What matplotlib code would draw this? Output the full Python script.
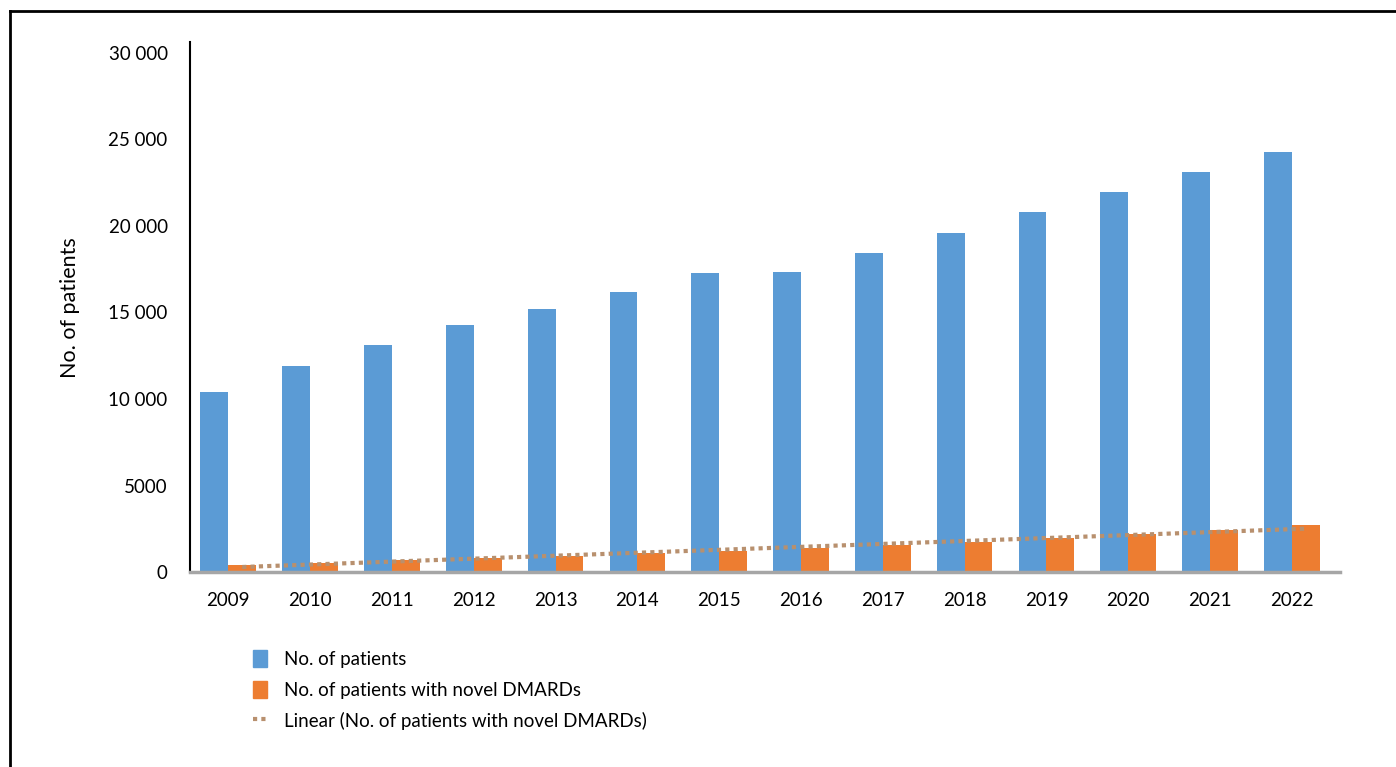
import matplotlib.pyplot as plt
import numpy as np
from matplotlib.lines import Line2D
from matplotlib.patches import Patch

plt.rcParams['font.family'] = ['Lato', 'DejaVu Sans']

years = ['2009', '2010', '2011', '2012', '2013', '2014', '2015',
         '2016', '2017', '2018', '2019', '2020', '2021', '2022']
patients = [10400, 11900, 13100, 14250, 15200, 16200, 17250,
            17350, 18450, 19600, 20800, 21950, 23100, 24250]
novel_dmards = [420, 540, 680, 820, 960, 1080, 1220,
                1380, 1560, 1750, 1950, 2200, 2420, 2700]
y_ticks = [0, 5000, 10000, 15000, 20000, 25000, 30000]
y_tick_labels = ['0', '5000', '10 000', '15 000', '20 000', '25 000', '30 000']

blue = '#5b9bd5'
orange = '#ed7d31'
trend_col = '#b8906e'

fig = plt.figure(figsize=(13.96, 7.67), dpi=100)
ax = fig.add_axes([0.136, 0.254, 0.824, 0.691])

x = np.arange(len(years))
w = 0.34
ax.bar(x - w / 2, patients, w, color=blue)
ax.bar(x + w / 2, novel_dmards, w, color=orange)

# linear trendline of the novel DMARDs series
k, b = np.polyfit(x, novel_dmards, 1)
ax.plot(x + w / 2, k * x + b, color=trend_col, lw=3, ls=(0, (1, 1)))

ax.set_xlim(-0.47, 13.59)
ax.set_ylim(0, 30600)
ax.set_yticks(y_ticks)
ax.set_yticklabels(y_tick_labels)
ax.set_xticks(x)
ax.set_xticklabels(years)
ax.tick_params(length=0, labelsize=13.5)
ax.tick_params(axis='y', pad=16)
ax.tick_params(axis='x', pad=14)
ax.set_ylabel('No. of patients', fontsize=15.5, labelpad=20)

for s in ['top', 'right']:
    ax.spines[s].set_visible(False)
ax.spines['left'].set_color('black')
ax.spines['left'].set_linewidth(1.5)
ax.spines['bottom'].set_color('#a6a6a6')
ax.spines['bottom'].set_linewidth(2.5)

handles = [
    Patch(color=blue),
    Patch(color=orange),
    Line2D([0], [0], color=trend_col, lw=3, ls=(0, (1, 1))),
]
labels = ['No. of patients', 'No. of patients with novel DMARDs',
          'Linear (No. of patients with novel DMARDs)']
fig.legend(handles, labels, loc='upper left', bbox_to_anchor=(0.169, 0.174),
           frameon=False, fontsize=13.5, handlelength=0.75, handleheight=1.0,
           handletextpad=0.9, labelspacing=0.68)

# outer frame (left and top edges)
fig.add_artist(Line2D([10 / 1396, 1], [1 - 11 / 767, 1 - 11 / 767],
                      color='black', lw=2, transform=fig.transFigure))
fig.add_artist(Line2D([10 / 1396, 10 / 1396], [0, 1 - 11 / 767],
                      color='black', lw=2, transform=fig.transFigure))

fig.savefig('out.png', dpi=100)
